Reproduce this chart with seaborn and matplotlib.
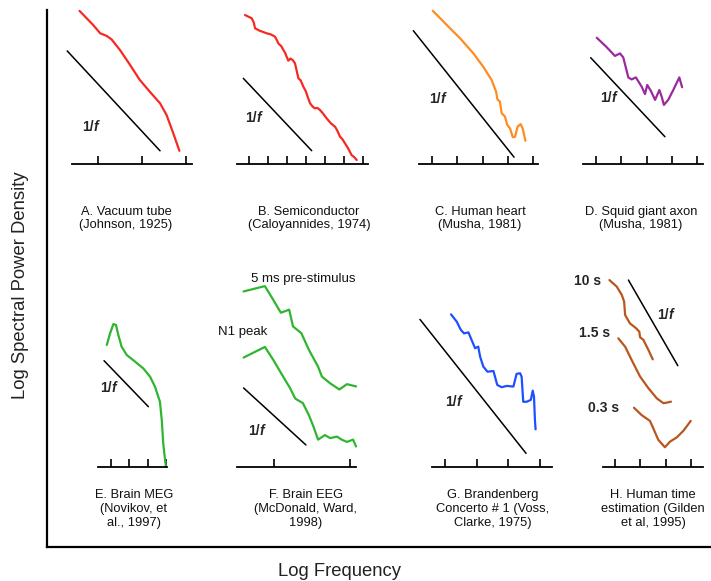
import numpy as np
import matplotlib
matplotlib.use("Agg")
import matplotlib.pyplot as plt
import seaborn as sns

a_x = [0.58, 0.89, 1.05, 1.20, 1.31, 1.50, 1.73, 1.95, 2.18, 2.41, 2.56, 2.71, 2.85]
a_y = [3.48, 3.16, 2.97, 2.91, 2.83, 2.59, 2.25, 1.91, 1.64, 1.38, 1.11, 0.70, 0.30]
a_ref_x = [0.30, 2.41]
a_ref_y = [2.57, 0.30]

b_x = [0.79, 1.00, 1.14, 1.25, 1.32, 1.55, 1.93, 2.15, 2.37, 2.50, 2.54, 2.70, 2.81, 2.90,
       2.98, 3.07, 3.18, 3.30, 3.42, 3.50, 3.60, 3.72, 3.86, 3.98, 4.10, 4.21, 4.35, 4.47,
       4.60, 4.74, 4.90, 5.09, 5.30, 5.53, 5.65, 5.79, 5.92, 6.05, 6.20, 6.40, 6.55, 6.67]
b_y = [7.84, 7.74, 7.67, 7.45, 7.14, 7.02, 6.88, 6.82, 6.70, 6.45, 6.35, 6.20, 6.00, 5.85,
       5.65, 5.44, 5.55, 5.47, 5.30, 4.95, 4.51, 4.40, 4.07, 3.85, 3.50, 3.20, 3.02, 2.93,
       2.95, 2.84, 2.65, 2.40, 2.15, 1.96, 1.75, 1.44, 1.30, 1.09, 0.85, 0.47, 0.35, 0.21]
b_ref_x = [0.70, 4.30]
b_ref_y = [4.51, 0.70]

c_x = [1.03, 1.58, 2.11, 2.64, 3.03, 3.36, 3.54, 3.59, 3.69, 3.76, 3.89, 3.98, 4.09, 4.20,
       4.29, 4.39, 4.51, 4.59, 4.70]
c_y = [6.07, 5.51, 4.98, 4.38, 3.85, 3.33, 2.86, 2.56, 2.47, 2.01, 1.88, 1.55, 1.41, 1.06,
       1.08, 1.48, 1.58, 1.41, 0.92]
c_ref_x = [0.26, 4.25]
c_ref_y = [5.28, 0.27]

d_x = [1.03, 1.42, 1.75, 1.95, 2.08, 2.28, 2.41, 2.58, 2.81, 2.94, 3.03, 3.17, 3.34, 3.51,
       3.60, 3.69, 3.86, 4.06, 4.30, 4.41]
d_y = [5.00, 4.63, 4.28, 4.38, 4.22, 3.43, 3.35, 3.43, 3.06, 2.77, 3.13, 2.90, 2.54, 2.93,
       2.67, 2.34, 2.54, 2.93, 3.43, 3.04]
d_ref_x = [0.79, 3.73]
d_ref_y = [4.21, 1.08]

e_x = [0.77, 0.95, 1.13, 1.27, 1.40, 1.58, 1.86, 2.31, 2.76, 3.13, 3.40, 3.67, 3.77, 3.85,
       3.95, 4.00]
e_y = [6.66, 7.29, 7.80, 7.75, 7.20, 6.56, 6.11, 5.75, 5.38, 4.93, 4.38, 3.56, 2.56, 1.29,
       0.38, 0.00]
e_ref_x = [0.62, 3.04]
e_ref_y = [5.80, 3.29]

f_pre_x = [0.60, 0.88, 0.99, 1.09, 1.20, 1.25, 1.36, 1.46, 1.58, 1.63, 1.74, 1.86, 1.96, 2.08]
f_pre_y = [2.31, 2.38, 2.20, 2.03, 2.07, 1.85, 1.76, 1.54, 1.32, 1.19, 1.10, 1.02, 1.09, 1.06]
f_n1_x = [0.60, 0.88, 0.99, 1.12, 1.21, 1.28, 1.38, 1.46, 1.52, 1.58, 1.67, 1.74, 1.83, 1.89,
          1.96, 2.04, 2.08]
f_n1_y = [1.44, 1.58, 1.41, 1.19, 1.04, 0.90, 0.84, 0.68, 0.53, 0.36, 0.42, 0.38, 0.40, 0.36,
          0.33, 0.36, 0.27]
f_ref_x = [0.60, 1.42]
f_ref_y = [1.04, 0.29]

g_x = [1.19, 1.37, 1.50, 1.60, 1.74, 1.84, 1.95, 2.05, 2.11, 2.21, 2.34, 2.53, 2.65, 2.79,
       2.95, 3.16, 3.26, 3.37, 3.42, 3.47, 3.58, 3.71, 3.77, 3.81, 3.84, 3.86]
g_y = [4.82, 4.59, 4.33, 4.22, 4.25, 4.01, 3.75, 3.80, 3.48, 3.17, 3.01, 3.03, 2.59, 2.52,
       2.56, 2.54, 2.94, 2.96, 2.85, 2.06, 2.06, 2.12, 2.41, 2.22, 1.48, 1.19]
g_ref_x = [0.21, 3.56]
g_ref_y = [4.66, 0.43]

h10_x = [0.78, 1.07, 1.27, 1.36, 1.40, 1.59, 1.83, 1.96, 1.99, 2.12, 2.32, 2.49]
h10_y = [7.38, 7.12, 6.79, 6.53, 6.00, 5.67, 5.48, 5.34, 5.12, 5.02, 4.62, 4.25]
h15_x = [1.13, 1.40, 1.66, 1.99, 2.32, 2.65, 2.91, 3.04, 3.21]
h15_y = [5.08, 4.75, 4.22, 3.57, 3.11, 2.71, 2.52, 2.54, 2.58]
h03_x = [1.75, 2.05, 2.38, 2.51, 2.71, 2.97, 3.17, 3.44, 3.70, 3.99]
h03_y = [2.34, 2.05, 1.82, 1.53, 1.07, 0.78, 1.00, 1.17, 1.43, 1.82]
h_ref_x = [1.53, 3.48]
h_ref_y = [7.38, 4.00]

captions = [
    "A. Vacuum tube\n(Johnson, 1925)",
    "B. Semiconductor\n(Caloyannides, 1974)",
    "C. Human heart\n(Musha, 1981)",
    "D. Squid giant axon\n(Musha, 1981)",
    "E. Brain MEG\n(Novikov, et\nal., 1997)",
    "F. Brain EEG\n(McDonald, Ward,\n1998)",
    "G. Brandenberg\nConcerto # 1 (Voss,\nClarke, 1975)",
    "H. Human time\nestimation (Gilden\net al, 1995)",
]

sns.set_theme(style="white")
plt.rcParams['font.family'] = ['Liberation Sans', 'DejaVu Sans']

W, H = 711, 581
fig = plt.figure(figsize=(W / 100, H / 100), dpi=100)

# outer frame
main = fig.add_axes([47 / W, 1 - 547 / H, 664 / W, 537 / H])
main.set_xticks([])
main.set_yticks([])
for s in ['top', 'right']:
    main.spines[s].set_visible(False)
for s in ['left', 'bottom']:
    main.spines[s].set_color('black')
    main.spines[s].set_linewidth(1.6)
main.set_xlabel("Log Frequency", fontsize=13.3, color='#222222')
main.set_ylabel("Log Spectral Power Density", fontsize=13.3, color='#222222')
main.xaxis.set_label_coords((340 - 47) / 664, (547 - 563) / 537)
main.yaxis.set_label_coords((29 - 47) / 664, (547 - 285) / 537)


def panel(left, right, base, top, tick0, step, n_ticks, line0, line1):
    ax = fig.add_axes([left / W, 1 - base / H, (right - left) / W, (base - top) / H])
    to_x = lambda p: (p - tick0) / step + 1
    ax.set_xlim(to_x(left), to_x(right))
    ax.set_ylim(0, (base - top) / step)
    ax.patch.set_visible(False)
    for s in ['top', 'right', 'left']:
        ax.spines[s].set_visible(False)
    ax.spines['bottom'].set_bounds(to_x(line0), to_x(line1))
    ax.spines['bottom'].set_color('black')
    ax.spines['bottom'].set_linewidth(1.3)
    ax.set_xticks(np.arange(1, n_ticks + 1))
    ax.set_yticks([])
    ax.tick_params(axis='x', direction='in', length=5.5, width=1.2, color='black',
                   labelbottom=False, bottom=True)
    return ax


def curve(ax, x, y, color, lw=1.6):
    sns.lineplot(x=x, y=y, ax=ax, color=color, lw=lw, sort=False, estimator=None,
                 clip_on=False, solid_capstyle='round', solid_joinstyle='round')


def oneoverf(ax, x, y, tx, ty):
    sns.lineplot(x=x, y=y, ax=ax, color='black', lw=1.1, sort=False, estimator=None, clip_on=False)
    # "1/" upright, "f" italic, both bold
    ax.annotate("1/", xy=(tx, ty), xytext=(2.5, 0), textcoords='offset points',
                fontsize=10, fontweight='bold', ha='right', va='center')
    ax.annotate("f", xy=(tx, ty), xytext=(2.5, 0), textcoords='offset points',
                fontsize=10, fontweight='bold', fontstyle='italic', ha='left', va='center')


red = '#f52a22'
ax = panel(60, 200, 164, 5, 98, 44, 3, 72, 192)
curve(ax, a_x, a_y, red)
oneoverf(ax, a_ref_x, a_ref_y, 0.82, 0.84)

ax = panel(230, 375, 164, 5, 249, 19, 7, 237, 368)
curve(ax, b_x, b_y, red)
oneoverf(ax, b_ref_x, b_ref_y, 1.23, 2.41)

ax = panel(405, 545, 164, 5, 432, 25.25, 5, 419, 538)
curve(ax, c_x, c_y, '#ff8c22')
oneoverf(ax, c_ref_x, c_ref_y, 1.19, 2.56)

ax = panel(575, 709, 164, 5, 596, 25.25, 5, 583, 703)
curve(ax, d_x, d_y, '#9a2a9e')
oneoverf(ax, d_ref_x, d_ref_y, 1.49, 2.60)

green = '#2fb52f'
ax = panel(90, 175, 467, 250, 111, 18.33, 4, 98, 167)
curve(ax, e_x, e_y, green)
oneoverf(ax, e_ref_x, e_ref_y, 0.85, 4.33)

ax = panel(215, 365, 467, 250, 274, 76, 2, 237, 356)
curve(ax, f_pre_x, f_pre_y, green)
curve(ax, f_n1_x, f_n1_y, green)
oneoverf(ax, f_ref_x, f_ref_y, 0.77, 0.48)
ax.text(1.38, 2.48, "5 ms pre-stimulus", fontsize=9.5, ha='center', va='center', color='#111111')
ax.text(0.59, 1.77, "N1 peak", fontsize=9.5, ha='center', va='center', color='#111111')

ax = panel(415, 560, 467, 250, 445, 31.67, 4, 432, 552)
curve(ax, g_x, g_y, '#1f4fff')
oneoverf(ax, g_ref_x, g_ref_y, 1.26, 2.06)

brown = '#b9561e'
ax = panel(570, 709, 467, 250, 615, 25.33, 4, 603, 703)
curve(ax, h10_x, h10_y, brown)
curve(ax, h15_x, h15_y, brown)
curve(ax, h03_x, h03_y, brown)
oneoverf(ax, h_ref_x, h_ref_y, 2.97, 6.00)
for tx, ty, lab in [(-0.09, 7.34, "10 s"), (0.18, 5.28, "1.5 s"), (0.54, 2.32, "0.3 s")]:
    ax.text(tx, ty, lab, fontsize=10, fontweight='bold', ha='center', va='center')

# captions under each panel
cap_pos = [(126, 218.5), (309, 218.5), (480, 218.5), (641, 218.5),
           (134, 509), (306, 509), (493, 509), (653, 509)]
for (cx, cy), txt in zip(cap_pos, captions):
    fig.text(cx / W, 1 - cy / H, txt, ha='center', va='center', fontsize=9.3,
             linespacing=1.2, color='#111111')

fig.savefig("out.png", dpi=100)
